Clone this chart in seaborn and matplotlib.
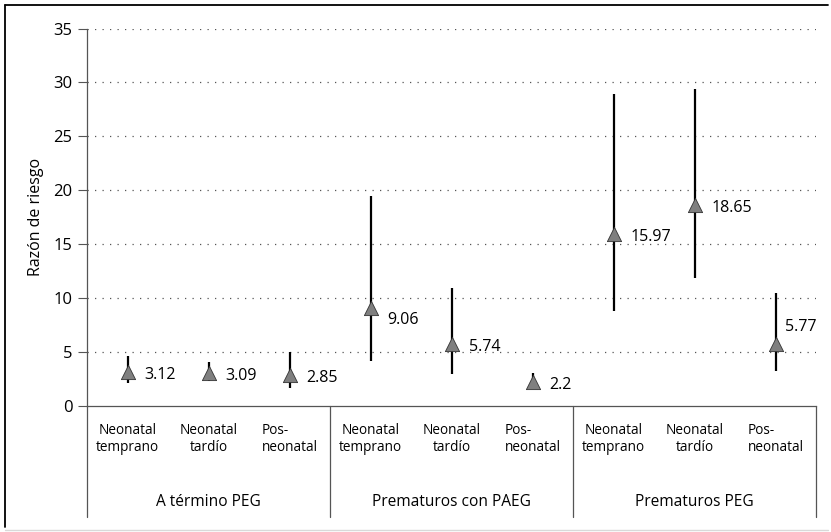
import numpy as np
import pandas as pd
import matplotlib
matplotlib.use("Agg")
import matplotlib.pyplot as plt
import matplotlib.transforms as mtransforms
from matplotlib.lines import Line2D
import seaborn as sns

##############################################
### DATA #####################################
##############################################

groups = ["A término PEG", "Prematuros con PAEG", "Prematuros PEG"]
periods = ["Neonatal\ntemprano", "Neonatal\ntardío", "Pos-\nneonatal"]

# razon de riesgo + IC per grupo (order: temprano, tardio, posneonatal)
rr_term = [3.12, 3.09, 2.85]
low_term = [2.1, 2.35, 1.65]
up_term = [4.6, 4.1, 5.0]

rr_paeg = [9.06, 5.74, 2.2]
low_paeg = [4.2, 3.0, 1.65]
up_paeg = [19.5, 10.9, 3.05]

rr_peg = [15.97, 18.65, 5.77]
low_peg = [8.85, 11.85, 3.2]
up_peg = [28.9, 29.35, 10.45]

y_ticks = [0, 5, 10, 15, 20, 25, 30, 35]

df = pd.DataFrame({
    "grupo": np.repeat(groups, 3),
    "periodo": periods * 3,
    "rr": rr_term + rr_paeg + rr_peg,
    "low": low_term + low_paeg + low_peg,
    "up": up_term + up_paeg + up_peg,
})
df["x"] = np.arange(len(df))

##############################################
### PLOT #####################################
##############################################

sns.set_style("white")
plt.rcParams["font.family"] = ["Open Sans", "DejaVu Sans"]

fig = plt.figure(figsize=(8.31, 5.32), dpi=100)
ax = fig.add_axes([87 / 831, 1 - 406 / 532, (816 - 87) / 831, (406 - 28.5) / 532])

# confidence intervals
ax.vlines(df["x"], df["low"], df["up"], color="black", lw=1.6, zorder=2)

# point estimates
sns.scatterplot(data=df, x="x", y="rr", marker="^", s=105, color="#7f7f7f",
                edgecolor="#333333", linewidth=0.6, zorder=3, ax=ax, legend=False)

# value labels (offsets in pixels, some labels moved to avoid the lines)
label_offsets = [(17, -3)] * len(df)
label_offsets[3] = (17, -12)
label_offsets[8] = (9, 17)
for (i, row), off in zip(df.iterrows(), label_offsets):
    ax.annotate(f"{row['rr']:g}", (row["x"], row["rr"]), xytext=off,
                textcoords="offset pixels", ha="left", va="center",
                fontsize=11.5, color="black")

ax.set_xlim(-0.5, len(df) - 0.5)
ax.set_ylim(0, 35)
ax.set_yticks(y_ticks)
ax.set_xticks([])
ax.set_xlabel("")
ax.set_ylabel("Razón de riesgo", fontsize=11.5, labelpad=7, color="black")
ax.tick_params(axis="y", direction="out", length=6.5, width=0.8, color="#555555",
               labelsize=12, labelcolor="black", pad=4, left=True)

# dotted grid
for yv in y_ticks[1:]:
    ax.axhline(yv, color="#555555", lw=0.9, ls=(0, (1, 5)), zorder=1)

for s in ["top", "right"]:
    ax.spines[s].set_visible(False)
for s in ["left", "bottom"]:
    ax.spines[s].set_color("#555555")
    ax.spines[s].set_linewidth(0.9)

# category axis under the plot
trans = mtransforms.blended_transform_factory(ax.transData, ax.transAxes)
for i, row in df.iterrows():
    ma = "left" if row["periodo"].startswith("Pos") else "center"
    ax.text(row["x"], -0.088, row["periodo"], transform=trans, ha="center",
            va="center", multialignment=ma, fontsize=9.8, linespacing=1.2,
            color="black")

for g, name in enumerate(groups):
    ax.text(g * 3 + 1, -0.253, name, transform=trans, ha="center", va="center",
            fontsize=11.2, color="black")

for sep in [-0.5, 2.5, 5.5, 8.5]:
    ax.plot([sep, sep], [0, -0.294], transform=trans, color="#555555", lw=0.9,
            clip_on=False)

# outer frame
fig.add_artist(Line2D([5 / 831, 5 / 831], [5 / 532, 1 - 5 / 532], color="black", lw=1.3))
fig.add_artist(Line2D([5 / 831, 828 / 831], [1 - 5 / 532, 1 - 5 / 532], color="black", lw=1.3))
fig.add_artist(Line2D([5 / 831, 828 / 831], [2 / 532, 2 / 532], color="#d9d9d9", lw=1))

fig.savefig("out.png", dpi=100)
